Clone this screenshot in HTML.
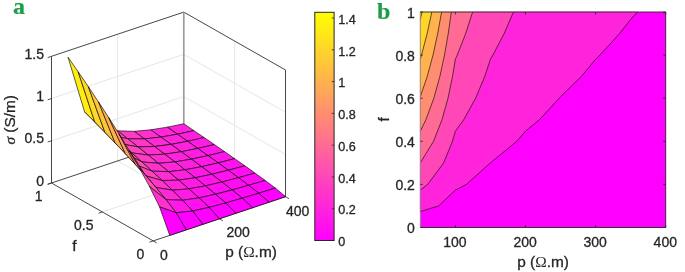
<!DOCTYPE html>
<html><head><meta charset="utf-8"><title>figure</title>
<style>html,body{margin:0;padding:0;background:#fff}svg{display:block}text{stroke:#262626;stroke-width:0.3px}text.pl{stroke:#1a9e4b;stroke-width:0.2px}</style></head>
<body><svg width="685" height="272" viewBox="0 0 685 272" font-family="Liberation Sans, sans-serif" fill="#262626">
<rect width="685" height="272" fill="#fff"/>
<line x1="51.50" y1="140.77" x2="183.80" y2="96.57" stroke="#e6e6e6" stroke-width="1" />
<line x1="183.80" y1="96.57" x2="285.50" y2="154.47" stroke="#e6e6e6" stroke-width="1" />
<line x1="51.50" y1="98.53" x2="183.80" y2="54.33" stroke="#e6e6e6" stroke-width="1" />
<line x1="183.80" y1="54.33" x2="285.50" y2="112.23" stroke="#e6e6e6" stroke-width="1" />
<line x1="219.35" y1="218.80" x2="117.65" y2="160.90" stroke="#e6e6e6" stroke-width="1" />
<line x1="117.65" y1="160.90" x2="117.65" y2="34.20" stroke="#e6e6e6" stroke-width="1" />
<line x1="102.35" y1="211.95" x2="234.65" y2="167.75" stroke="#e6e6e6" stroke-width="1" />
<line x1="234.65" y1="167.75" x2="234.65" y2="41.05" stroke="#e6e6e6" stroke-width="1" />
<line x1="51.50" y1="183.00" x2="183.80" y2="138.80" stroke="#262626" stroke-width="0.85" />
<line x1="183.80" y1="138.80" x2="285.50" y2="196.70" stroke="#262626" stroke-width="0.85" />
<line x1="51.50" y1="56.30" x2="183.80" y2="12.10" stroke="#262626" stroke-width="0.85" />
<line x1="183.80" y1="12.10" x2="285.50" y2="70.00" stroke="#262626" stroke-width="0.85" />
<line x1="183.80" y1="138.80" x2="183.80" y2="12.10" stroke="#9c9c9c" stroke-width="1.7" />
<line x1="285.50" y1="196.70" x2="285.50" y2="70.00" stroke="#262626" stroke-width="0.85" />
<line x1="51.50" y1="183.00" x2="51.50" y2="56.30" stroke="#262626" stroke-width="0.85" />
<line x1="153.20" y1="240.90" x2="51.50" y2="183.00" stroke="#262626" stroke-width="0.85" />
<line x1="153.20" y1="240.90" x2="285.50" y2="196.70" stroke="#262626" stroke-width="0.85" />
<line x1="153.20" y1="240.90" x2="156.68" y2="242.88" stroke="#262626" stroke-width="0.8" />
<line x1="219.35" y1="218.80" x2="222.83" y2="220.78" stroke="#262626" stroke-width="0.8" />
<line x1="285.50" y1="196.70" x2="288.98" y2="198.68" stroke="#262626" stroke-width="0.8" />
<line x1="153.20" y1="240.90" x2="149.41" y2="242.17" stroke="#262626" stroke-width="0.8" />
<line x1="102.35" y1="211.95" x2="98.56" y2="213.22" stroke="#262626" stroke-width="0.8" />
<line x1="51.50" y1="183.00" x2="47.71" y2="184.27" stroke="#262626" stroke-width="0.8" />
<line x1="51.50" y1="183.00" x2="47.71" y2="184.27" stroke="#262626" stroke-width="0.8" />
<line x1="51.50" y1="140.77" x2="47.71" y2="142.03" stroke="#262626" stroke-width="0.8" />
<line x1="51.50" y1="98.53" x2="47.71" y2="99.80" stroke="#262626" stroke-width="0.8" />
<line x1="51.50" y1="56.30" x2="47.71" y2="57.57" stroke="#262626" stroke-width="0.8" />
<g stroke="#000" stroke-width="0.62" stroke-linejoin="round">
<polygon points="177.43,134.20 193.97,130.66 183.80,123.76 167.26,127.14" fill="#ff22dd"/>
<polygon points="187.60,141.29 204.14,137.59 193.97,130.66 177.43,134.20" fill="#ff1fe0"/>
<polygon points="160.90,137.07 177.43,134.20 167.26,127.14 150.73,129.80" fill="#ff27d8"/>
<polygon points="197.77,148.43 214.31,144.56 204.14,137.59 187.60,141.29" fill="#ff1ce3"/>
<polygon points="171.06,144.38 187.60,141.29 177.43,134.20 160.90,137.07" fill="#ff24db"/>
<polygon points="144.36,138.88 160.90,137.07 150.73,129.80 134.19,131.32" fill="#ff2fd0"/>
<polygon points="207.94,155.62 224.48,151.58 214.31,144.56 197.77,148.43" fill="#ff19e6"/>
<polygon points="181.24,151.74 197.77,148.43 187.60,141.29 171.06,144.38" fill="#ff21de"/>
<polygon points="154.53,146.49 171.06,144.38 160.90,137.07 144.36,138.88" fill="#ff2bd4"/>
<polygon points="127.82,138.83 144.36,138.88 134.19,131.32 117.65,130.83" fill="#ff3bc4"/>
<polygon points="218.11,162.88 234.65,158.65 224.48,151.58 207.94,155.62" fill="#ff16e9"/>
<polygon points="191.41,159.17 207.94,155.62 197.77,148.43 181.24,151.74" fill="#ff1de2"/>
<polygon points="164.70,154.17 181.24,151.74 171.06,144.38 154.53,146.49" fill="#ff27d8"/>
<polygon points="137.99,146.90 154.53,146.49 144.36,138.88 127.82,138.83" fill="#ff36c9"/>
<polygon points="228.28,170.22 244.82,165.80 234.65,158.65 218.11,162.88" fill="#ff13ec"/>
<polygon points="201.58,166.67 218.11,162.88 207.94,155.62 191.41,159.17" fill="#ff1ae5"/>
<polygon points="111.28,135.07 127.82,138.83 117.65,130.83 101.11,126.33" fill="#ff4fb0"/>
<polygon points="174.87,161.92 191.41,159.17 181.24,151.74 164.70,154.17" fill="#ff23dc"/>
<polygon points="148.16,155.05 164.70,154.17 154.53,146.49 137.99,146.90" fill="#ff31ce"/>
<polygon points="238.45,177.68 254.99,173.05 244.82,165.80 228.28,170.22" fill="#ff0ff0"/>
<polygon points="211.75,174.27 228.28,170.22 218.11,162.88 201.58,166.67" fill="#ff16e9"/>
<polygon points="121.45,143.90 137.99,146.90 127.82,138.83 111.28,135.07" fill="#ff48b7"/>
<polygon points="185.04,169.77 201.58,166.67 191.41,159.17 174.87,161.92" fill="#ff1fe0"/>
<polygon points="158.33,163.30 174.87,161.92 164.70,154.17 148.16,155.05" fill="#ff2cd3"/>
<polygon points="248.62,185.30 265.16,180.44 254.99,173.05 238.45,177.68" fill="#ff0bf4"/>
<polygon points="221.92,182.01 238.45,177.68 228.28,170.22 211.75,174.27" fill="#ff12ed"/>
<polygon points="131.62,152.84 148.16,155.05 137.99,146.90 121.45,143.90" fill="#ff42bd"/>
<polygon points="94.74,122.02 111.28,135.07 101.11,126.33 84.57,111.81" fill="#ff7689"/>
<polygon points="195.21,177.74 211.75,174.27 201.58,166.67 185.04,169.77" fill="#ff1ae5"/>
<polygon points="168.50,171.66 185.04,169.77 174.87,161.92 158.33,163.30" fill="#ff27d8"/>
<polygon points="258.79,193.20 275.33,188.08 265.16,180.44 248.62,185.30" fill="#ff07f8"/>
<polygon points="141.79,161.90 158.33,163.30 148.16,155.05 131.62,152.84" fill="#ff3bc4"/>
<polygon points="232.09,189.93 248.62,185.30 238.45,177.68 221.92,182.01" fill="#ff0df2"/>
<polygon points="104.91,132.37 121.45,143.90 111.28,135.07 94.74,122.02" fill="#ff6c93"/>
<polygon points="205.38,185.86 221.92,182.01 211.75,174.27 195.21,177.74" fill="#ff15ea"/>
<polygon points="178.67,180.17 195.21,177.74 185.04,169.77 168.50,171.66" fill="#ff21de"/>
<polygon points="268.96,202.22 285.50,196.70 275.33,188.08 258.79,193.20" fill="#ff00ff"/>
<polygon points="115.08,142.88 131.62,152.84 121.45,143.90 104.91,132.37" fill="#ff629d"/>
<polygon points="151.96,171.12 168.50,171.66 158.33,163.30 141.79,161.90" fill="#ff33cc"/>
<polygon points="242.26,198.18 258.79,193.20 248.62,185.30 232.09,189.93" fill="#ff08f7"/>
<polygon points="215.55,194.21 232.09,189.93 221.92,182.01 205.38,185.86" fill="#ff10ef"/>
<polygon points="188.84,188.87 205.38,185.86 195.21,177.74 178.67,180.17" fill="#ff1be4"/>
<polygon points="125.25,153.58 141.79,161.90 131.62,152.84 115.08,142.88" fill="#ff58a7"/>
<polygon points="162.13,180.53 178.67,180.17 168.50,171.66 151.96,171.12" fill="#ff2cd3"/>
<polygon points="252.43,207.75 268.96,202.22 258.79,193.20 242.26,198.18" fill="#ff00ff"/>
<polygon points="225.72,202.95 242.26,198.18 232.09,189.93 215.55,194.21" fill="#ff0af5"/>
<polygon points="199.01,197.86 215.55,194.21 205.38,185.86 188.84,188.87" fill="#ff14eb"/>
<polygon points="135.42,164.52 151.96,171.12 141.79,161.90 125.25,153.58" fill="#ff4db2"/>
<polygon points="78.21,71.83 94.74,122.02 84.57,111.81 68.04,57.19" fill="#ffec13"/>
<polygon points="172.30,190.21 188.84,188.87 178.67,180.17 162.13,180.53" fill="#ff24db"/>
<polygon points="235.89,213.28 252.43,207.75 242.26,198.18 225.72,202.95" fill="#ff00ff"/>
<polygon points="209.18,207.35 225.72,202.95 215.55,194.21 199.01,197.86" fill="#ff0cf3"/>
<polygon points="88.38,86.74 104.91,132.37 94.74,122.02 78.21,71.83" fill="#ffd926"/>
<polygon points="145.59,175.74 162.13,180.53 151.96,171.12 135.42,164.52" fill="#ff42bd"/>
<polygon points="182.47,200.26 199.01,197.86 188.84,188.87 172.30,190.21" fill="#ff1ae5"/>
<polygon points="98.55,101.97 115.08,142.88 104.91,132.37 88.38,86.74" fill="#ffc53a"/>
<polygon points="219.35,218.80 235.89,213.28 225.72,202.95 209.18,207.35" fill="#ff00ff"/>
<polygon points="155.76,187.36 172.30,190.21 162.13,180.53 145.59,175.74" fill="#ff35ca"/>
<polygon points="192.64,210.98 209.18,207.35 199.01,197.86 182.47,200.26" fill="#ff10ef"/>
<polygon points="108.72,117.58 125.25,153.58 115.08,142.88 98.55,101.97" fill="#ffb04f"/>
<polygon points="165.93,199.55 182.47,200.26 172.30,190.21 155.76,187.36" fill="#ff28d7"/>
<polygon points="202.81,224.32 219.35,218.80 209.18,207.35 192.64,210.98" fill="#ff00ff"/>
<polygon points="118.89,133.66 135.42,164.52 125.25,153.58 108.72,117.58" fill="#ff9a65"/>
<polygon points="176.10,212.73 192.64,210.98 182.47,200.26 165.93,199.55" fill="#ff18e7"/>
<polygon points="129.06,150.32 145.59,175.74 135.42,164.52 118.89,133.66" fill="#ff837c"/>
<polygon points="186.27,229.85 202.81,224.32 192.64,210.98 176.10,212.73" fill="#ff00ff"/>
<polygon points="139.23,167.76 155.76,187.36 145.59,175.74 129.06,150.32" fill="#ff6b94"/>
<polygon points="149.40,186.35 165.93,199.55 155.76,187.36 139.23,167.76" fill="#ff4fb0"/>
<polygon points="159.57,206.93 176.10,212.73 165.93,199.55 149.40,186.35" fill="#ff30cf"/>
<polygon points="169.74,235.38 186.27,229.85 176.10,212.73 159.57,206.93" fill="#ff00ff"/>
</g>
<text x="44.00" y="185.65" font-size="14" text-anchor="end" >0</text>
<text x="44.00" y="143.42" font-size="14" text-anchor="end" >0.5</text>
<text x="44.00" y="101.18" font-size="14" text-anchor="end" >1</text>
<text x="44.00" y="58.95" font-size="14" text-anchor="end" >1.5</text>
<text x="144.30" y="258.75" font-size="14" text-anchor="end" >0</text>
<text x="93.45" y="229.80" font-size="14" text-anchor="end" >0.5</text>
<text x="42.60" y="200.85" font-size="14" text-anchor="end" >1</text>
<text x="159.90" y="259.80" font-size="14" text-anchor="start" >0</text>
<text x="226.40" y="237.30" font-size="14" text-anchor="start" >200</text>
<text x="285.90" y="215.50" font-size="14" text-anchor="start" >400</text>
<text x="74.30" y="251.10" font-size="15.4" text-anchor="middle" >f</text>
<text x="225.2" y="257" font-size="15.4">p (<tspan font-family="Liberation Serif, serif" stroke="none">Ω</tspan>.m)</text>
<text transform="translate(15.1,119.8) rotate(-90)" font-size="15.4" text-anchor="middle"><tspan font-family="Liberation Serif, serif" font-style="italic">σ</tspan> (S/m)</text>
<defs><linearGradient id="cbg" x1="0" y1="1" x2="0" y2="0"><stop offset="0" stop-color="#ff00ff"/><stop offset="1" stop-color="#ffff00"/></linearGradient></defs>
<rect x="314.80" y="12.30" width="19.30" height="228.20" fill="url(#cbg)" stroke="#262626" stroke-width="1"/>
<line x1="331.80" y1="240.50" x2="334.10" y2="240.50" stroke="#262626" stroke-width="0.8" />
<text x="338.20" y="246.20" font-size="12.6" text-anchor="start" >0</text>
<line x1="331.80" y1="208.72" x2="334.10" y2="208.72" stroke="#262626" stroke-width="0.8" />
<text x="338.20" y="214.42" font-size="12.6" text-anchor="start" >0.2</text>
<line x1="331.80" y1="176.93" x2="334.10" y2="176.93" stroke="#262626" stroke-width="0.8" />
<text x="338.20" y="182.63" font-size="12.6" text-anchor="start" >0.4</text>
<line x1="331.80" y1="145.15" x2="334.10" y2="145.15" stroke="#262626" stroke-width="0.8" />
<text x="338.20" y="150.85" font-size="12.6" text-anchor="start" >0.6</text>
<line x1="331.80" y1="113.37" x2="334.10" y2="113.37" stroke="#262626" stroke-width="0.8" />
<text x="338.20" y="119.07" font-size="12.6" text-anchor="start" >0.8</text>
<line x1="331.80" y1="81.59" x2="334.10" y2="81.59" stroke="#262626" stroke-width="0.8" />
<text x="338.20" y="87.29" font-size="12.6" text-anchor="start" >1</text>
<line x1="331.80" y1="49.80" x2="334.10" y2="49.80" stroke="#262626" stroke-width="0.8" />
<text x="338.20" y="55.50" font-size="12.6" text-anchor="start" >1.2</text>
<line x1="331.80" y1="18.02" x2="334.10" y2="18.02" stroke="#262626" stroke-width="0.8" />
<text x="338.20" y="23.72" font-size="12.6" text-anchor="start" >1.4</text>
<rect x="420.30" y="12.00" width="245.40" height="215.50" fill="#ff00ff"/>
<path d="M420.30 205.95 L420.30 211.57 L438.57 205.95 L455.36 190.15 L466.44 184.40 L490.40 162.85 L490.41 162.83 L516.79 141.30 L525.47 131.17 L539.35 119.75 L559.33 98.20 L560.53 96.65 L581.17 76.65 L595.59 59.21 L599.91 55.10 L619.64 33.55 L630.64 19.35 L637.67 12.00 L630.64 12.00 L595.59 12.00 L560.53 12.00 L525.47 12.00 L513.46 12.00 L504.16 33.55 L492.88 55.10 L490.41 59.21 L484.65 76.65 L475.67 98.20 L463.68 119.75 L455.36 131.17 L452.46 141.30 L443.66 162.85 L427.69 184.40 L420.30 190.15 L420.30 205.95Z " fill="#ff24db" stroke="#ff24db" stroke-width="0.6"/>
<path d="M420.30 184.40 L420.30 190.15 L427.69 184.40 L443.66 162.85 L452.46 141.30 L455.36 131.17 L463.68 119.75 L475.67 98.20 L484.65 76.65 L490.41 59.21 L492.88 55.10 L504.16 33.55 L513.46 12.00 L490.41 12.00 L472.64 12.00 L465.67 33.55 L457.21 55.10 L455.36 59.21 L452.47 76.65 L447.99 98.20 L441.99 119.75 L433.49 141.30 L420.30 162.83 L420.30 162.85 L420.30 184.40Z " fill="#ff47b8" stroke="#ff47b8" stroke-width="0.6"/>
<path d="M420.30 141.30 L420.30 162.83 L433.49 141.30 L441.99 119.75 L447.99 98.20 L452.47 76.65 L455.36 59.21 L457.21 55.10 L465.67 33.55 L472.64 12.00 L455.36 12.00 L451.35 12.00 L448.25 33.55 L444.49 55.10 L439.83 76.65 L433.84 98.20 L425.85 119.75 L420.30 131.17 L420.30 141.30Z " fill="#ff6b94" stroke="#ff6b94" stroke-width="0.6"/>
<path d="M420.30 119.75 L420.30 131.17 L425.85 119.75 L433.84 98.20 L439.83 76.65 L444.49 55.10 L448.25 33.55 L451.35 12.00 L441.59 12.00 L437.71 33.55 L433.01 55.10 L427.18 76.65 L420.30 96.65 L420.30 98.20 L420.30 119.75Z " fill="#ff8e71" stroke="#ff8e71" stroke-width="0.6"/>
<path d="M420.30 76.65 L420.30 96.65 L427.18 76.65 L433.01 55.10 L437.71 33.55 L441.59 12.00 L431.82 12.00 L427.17 33.55 L421.53 55.10 L420.30 59.21 L420.30 76.65Z " fill="#ffb24d" stroke="#ffb24d" stroke-width="0.6"/>
<path d="M420.30 55.10 L420.30 59.21 L421.53 55.10 L427.17 33.55 L431.82 12.00 L422.06 12.00 L420.30 19.35 L420.30 33.55 L420.30 55.10Z " fill="#ffd52a" stroke="#ffd52a" stroke-width="0.6"/>
<path d="M420.30 12.00 L420.30 19.35 L422.06 12.00 L420.30 12.00Z " fill="#fff906" stroke="#fff906" stroke-width="0.6"/>
<polyline points="420.30,211.57 438.57,205.95 455.36,190.15 466.44,184.40 490.40,162.85 490.41,162.83 516.79,141.30 525.47,131.17 539.35,119.75 559.33,98.20 560.53,96.65 581.17,76.65 595.59,59.21 599.91,55.10 619.64,33.55 630.64,19.35 637.67,12.00" fill="none" stroke="#000" stroke-width="0.62" stroke-linejoin="round"/>
<polyline points="420.30,190.15 427.69,184.40 443.66,162.85 452.46,141.30 455.36,131.17 463.68,119.75 475.67,98.20 484.65,76.65 490.41,59.21 492.88,55.10 504.16,33.55 513.46,12.00" fill="none" stroke="#000" stroke-width="0.62" stroke-linejoin="round"/>
<polyline points="420.30,162.83 433.49,141.30 441.99,119.75 447.99,98.20 452.47,76.65 455.36,59.21 457.21,55.10 465.67,33.55 472.64,12.00" fill="none" stroke="#000" stroke-width="0.62" stroke-linejoin="round"/>
<polyline points="420.30,131.17 425.85,119.75 433.84,98.20 439.83,76.65 444.49,55.10 448.25,33.55 451.35,12.00" fill="none" stroke="#000" stroke-width="0.62" stroke-linejoin="round"/>
<polyline points="420.30,96.65 427.18,76.65 433.01,55.10 437.71,33.55 441.59,12.00" fill="none" stroke="#000" stroke-width="0.62" stroke-linejoin="round"/>
<polyline points="420.30,59.21 421.53,55.10 427.17,33.55 431.82,12.00" fill="none" stroke="#000" stroke-width="0.62" stroke-linejoin="round"/>
<polyline points="420.30,19.35 422.06,12.00" fill="none" stroke="#000" stroke-width="0.62" stroke-linejoin="round"/>
<line x1="420.30" y1="12.00" x2="420.30" y2="227.50" stroke="#8c8c8c" stroke-width="0.9" />
<polyline points="420.30,12.00 665.70,12.00 665.70,227.50 420.30,227.50" fill="none" stroke="#262626" stroke-width="0.9"/>
<line x1="455.36" y1="227.50" x2="455.36" y2="225.00" stroke="#262626" stroke-width="0.8" />
<line x1="455.36" y1="12.00" x2="455.36" y2="14.50" stroke="#262626" stroke-width="0.8" />
<text x="454.96" y="247.20" font-size="14" text-anchor="middle" >100</text>
<line x1="525.47" y1="227.50" x2="525.47" y2="225.00" stroke="#262626" stroke-width="0.8" />
<line x1="525.47" y1="12.00" x2="525.47" y2="14.50" stroke="#262626" stroke-width="0.8" />
<text x="525.07" y="247.20" font-size="14" text-anchor="middle" >200</text>
<line x1="595.59" y1="227.50" x2="595.59" y2="225.00" stroke="#262626" stroke-width="0.8" />
<line x1="595.59" y1="12.00" x2="595.59" y2="14.50" stroke="#262626" stroke-width="0.8" />
<text x="595.19" y="247.20" font-size="14" text-anchor="middle" >300</text>
<line x1="665.70" y1="227.50" x2="665.70" y2="225.00" stroke="#262626" stroke-width="0.8" />
<line x1="665.70" y1="12.00" x2="665.70" y2="14.50" stroke="#262626" stroke-width="0.8" />
<text x="665.30" y="247.20" font-size="14" text-anchor="middle" >400</text>
<line x1="420.30" y1="227.50" x2="422.80" y2="227.50" stroke="#262626" stroke-width="0.8" />
<line x1="665.70" y1="227.50" x2="663.20" y2="227.50" stroke="#262626" stroke-width="0.8" />
<text x="414.90" y="233.35" font-size="14" text-anchor="end" >0</text>
<line x1="420.30" y1="184.40" x2="422.80" y2="184.40" stroke="#262626" stroke-width="0.8" />
<line x1="665.70" y1="184.40" x2="663.20" y2="184.40" stroke="#262626" stroke-width="0.8" />
<text x="414.90" y="190.25" font-size="14" text-anchor="end" >0.2</text>
<line x1="420.30" y1="141.30" x2="422.80" y2="141.30" stroke="#262626" stroke-width="0.8" />
<line x1="665.70" y1="141.30" x2="663.20" y2="141.30" stroke="#262626" stroke-width="0.8" />
<text x="414.90" y="147.15" font-size="14" text-anchor="end" >0.4</text>
<line x1="420.30" y1="98.20" x2="422.80" y2="98.20" stroke="#262626" stroke-width="0.8" />
<line x1="665.70" y1="98.20" x2="663.20" y2="98.20" stroke="#262626" stroke-width="0.8" />
<text x="414.90" y="104.05" font-size="14" text-anchor="end" >0.6</text>
<line x1="420.30" y1="55.10" x2="422.80" y2="55.10" stroke="#262626" stroke-width="0.8" />
<line x1="665.70" y1="55.10" x2="663.20" y2="55.10" stroke="#262626" stroke-width="0.8" />
<text x="414.90" y="60.95" font-size="14" text-anchor="end" >0.8</text>
<line x1="420.30" y1="12.00" x2="422.80" y2="12.00" stroke="#262626" stroke-width="0.8" />
<line x1="665.70" y1="12.00" x2="663.20" y2="12.00" stroke="#262626" stroke-width="0.8" />
<text x="414.90" y="17.85" font-size="14" text-anchor="end" >1</text>
<text x="543.1" y="267.2" font-size="15.4" text-anchor="middle">p (<tspan font-family="Liberation Serif, serif" stroke="none">Ω</tspan>.m)</text>
<text transform="translate(389,119.4) rotate(-90)" font-size="15.4" text-anchor="middle">f</text>
<text x="13.0" y="14.3" font-family="Liberation Serif, serif" font-weight="bold" font-size="24" fill="#1a9e4b" class="pl">a</text>
<text x="377" y="19.3" font-family="Liberation Serif, serif" font-weight="bold" font-size="24" fill="#1a9e4b" class="pl">b</text>
</svg></body></html>
